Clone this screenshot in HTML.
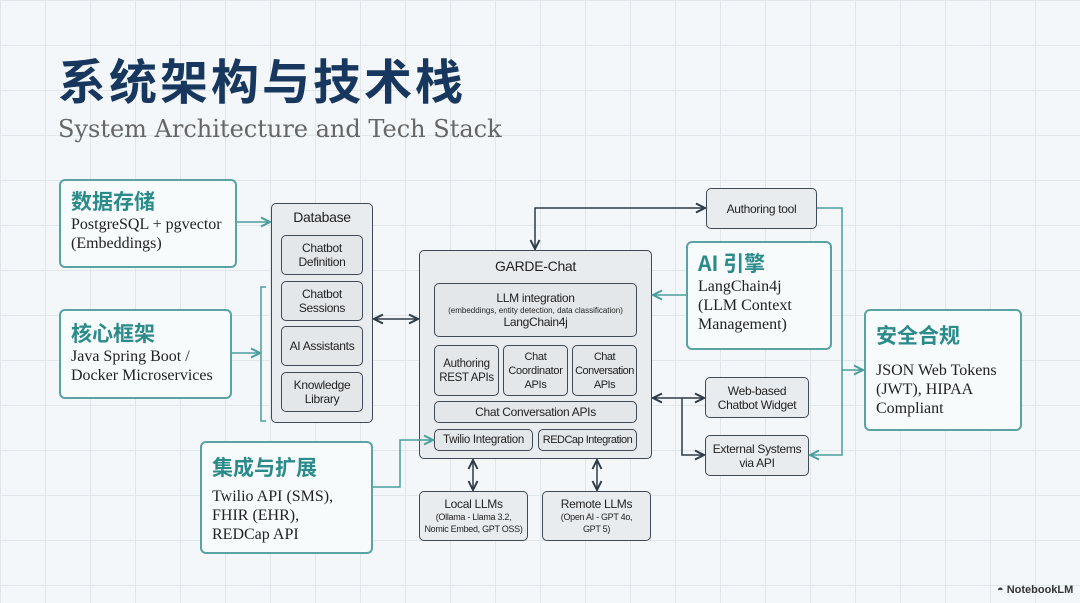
<!DOCTYPE html>
<html><head><meta charset="utf-8"><style>
*{margin:0;padding:0;box-sizing:border-box}
body{width:1080px;height:603px;overflow:hidden;position:relative;font-family:"Liberation Sans","Noto Sans CJK SC",sans-serif;
background-color:#f3f7f9;
background-image:linear-gradient(#dfe7eb 1px,transparent 1px),linear-gradient(90deg,#dfe7eb 1px,transparent 1px);
background-size:45px 45px;background-position:0 0;}
.a{position:absolute}
.tb{position:absolute;border:2px solid #5aa3a3;border-radius:6px;background:#f7fbfc;padding:6px 10px}
.tb h3{font-family:"Noto Sans CJK SC",sans-serif;color:#2b8b8b;font-size:21px;font-weight:700;line-height:28px}
.tb p{font-family:"Liberation Serif","Noto Serif CJK SC",serif;color:#222;font-size:16px;line-height:19px}
.g{position:absolute;border:1.5px solid #3f4a56;border-radius:5px;background:#e9ecef;display:flex;align-items:center;justify-content:center;text-align:center;font-size:12px;color:#222;line-height:14px;letter-spacing:-0.3px;white-space:nowrap}
.gi{background:#e4e7ea}
</style></head><body>
<div class="a" style="left:58px;top:48px;font-family:'Noto Sans CJK SC',sans-serif;font-weight:700;font-size:48px;color:#17375e;line-height:60px;letter-spacing:3px">系统架构与技术栈</div>
<div class="a" style="left:58px;top:114px;font-family:'DejaVu Serif',serif;font-size:24px;color:#666;line-height:30px">System Architecture and Tech Stack</div>

<div class="tb" style="left:59px;top:179px;width:178px;height:89px"><h3>数据存储</h3><p>PostgreSQL + pgvector<br>(Embeddings)</p></div>
<div class="tb" style="left:59px;top:309px;width:173px;height:90px;padding-top:8px"><h3>核心框架</h3><p>Java Spring Boot /<br>Docker Microservices</p></div>
<div class="tb" style="left:200px;top:441px;width:173px;height:113px;padding-top:10px"><h3>集成与扩展</h3><p style="margin-top:6px">Twilio API (SMS),<br>FHIR (EHR),<br>REDCap API</p></div>
<div class="tb" style="left:686px;top:241px;width:146px;height:109px"><h3>AI 引擎</h3><p>LangChain4j<br>(LLM Context<br>Management)</p></div>
<div class="tb" style="left:864px;top:309px;width:158px;height:122px;padding-top:10px"><h3>安全合规</h3><p style="margin-top:12px">JSON Web Tokens<br>(JWT), HIPAA<br>Compliant</p></div>

<div class="g" style="left:271px;top:203px;width:102px;height:220px;align-items:flex-start;padding-top:6px;font-size:14px">Database</div>
<div class="g gi" style="left:281px;top:235px;width:82px;height:40px">Chatbot<br>Definition</div>
<div class="g gi" style="left:281px;top:281px;width:82px;height:40px">Chatbot<br>Sessions</div>
<div class="g gi" style="left:281px;top:326px;width:82px;height:40px">AI Assistants</div>
<div class="g gi" style="left:281px;top:372px;width:82px;height:40px">Knowledge<br>Library</div>

<div class="g" style="left:419px;top:250px;width:233px;height:209px;align-items:flex-start;padding-top:8px;font-size:14px">GARDE-Chat</div>
<div class="g gi" style="left:434px;top:283px;width:203px;height:54px;flex-direction:column;font-size:12px;line-height:13px">LLM integration<span style="font-size:8px;line-height:11px;letter-spacing:0">(embeddings, entity detection, data classification)</span>LangChain4j</div>
<div class="g gi" style="left:434px;top:345px;width:65px;height:51px;font-size:11.5px">Authoring<br>REST APIs</div>
<div class="g gi" style="left:503px;top:345px;width:65px;height:51px;font-size:11px">Chat<br>Coordinator<br>APIs</div>
<div class="g gi" style="left:572px;top:345px;width:65px;height:51px;font-size:11px;letter-spacing:-0.5px">Chat<br>Conversation<br>APIs</div>
<div class="g gi" style="left:434px;top:401px;width:203px;height:22px">Chat Conversation APIs</div>
<div class="g gi" style="left:434px;top:429px;width:99px;height:22px;font-size:11.5px">Twilio Integration</div>
<div class="g gi" style="left:538px;top:429px;width:99px;height:22px;font-size:11px;letter-spacing:-0.5px">REDCap Integration</div>

<div class="g" style="left:419px;top:491px;width:109px;height:50px;flex-direction:column;font-size:12px">Local LLMs<span style="font-size:9px;line-height:12px">(Ollama - Llama 3.2,<br>Nomic Embed, GPT OSS)</span></div>
<div class="g" style="left:542px;top:491px;width:109px;height:50px;flex-direction:column;font-size:12px">Remote LLMs<span style="font-size:9px;line-height:12px">(Open AI - GPT 4o,<br>GPT 5)</span></div>

<div class="g" style="left:706px;top:188px;width:111px;height:41px">Authoring tool</div>
<div class="g" style="left:705px;top:377px;width:104px;height:41px">Web-based<br>Chatbot Widget</div>
<div class="g" style="left:705px;top:435px;width:104px;height:41px">External Systems<br>via API</div>

<svg class="a" style="left:0;top:0" width="1080" height="603" fill="none" stroke-width="1.5">
<defs>
<marker id="t" markerWidth="8" markerHeight="8" refX="7" refY="4" orient="auto-start-reverse"><path d="M1,1 L7,4 L1,7" stroke="#4a9d9d" fill="none" stroke-width="1.3"/></marker>
<marker id="d" markerWidth="8" markerHeight="8" refX="7" refY="4" orient="auto-start-reverse"><path d="M1,1 L7,4 L1,7" stroke="#2d3a48" fill="none" stroke-width="1.3"/></marker>
</defs>
<g stroke="#4a9d9d">
<path d="M237,222 H270" marker-end="url(#t)"/>
<path d="M232,353 H260" marker-end="url(#t)"/>
<path d="M266,287 H261 V421 H266"/>
<path d="M686,295 H653" marker-end="url(#t)"/>
<path d="M817,208 H842 V455 H810" marker-end="url(#t)"/>
<path d="M842,370 H863" marker-end="url(#t)"/>
<path d="M373,487 H400 V440 H433" marker-end="url(#t)"/>
</g>
<g stroke="#2d3a48">
<path d="M374,319 H418" marker-start="url(#d)" marker-end="url(#d)"/>
<path d="M535,249 V208 H705" marker-start="url(#d)" marker-end="url(#d)"/>
<path d="M653,398 H704" marker-start="url(#d)" marker-end="url(#d)"/>
<path d="M682,398 V455 H704" marker-end="url(#d)"/>
<path d="M473,460 V490" marker-start="url(#d)" marker-end="url(#d)"/>
<path d="M597,460 V490" marker-start="url(#d)" marker-end="url(#d)"/>
</g>
</svg>
<div class="a" style="left:997px;top:584px;font-size:11px;color:#333;font-weight:700">◓ NotebookLM</div>
</body></html>
